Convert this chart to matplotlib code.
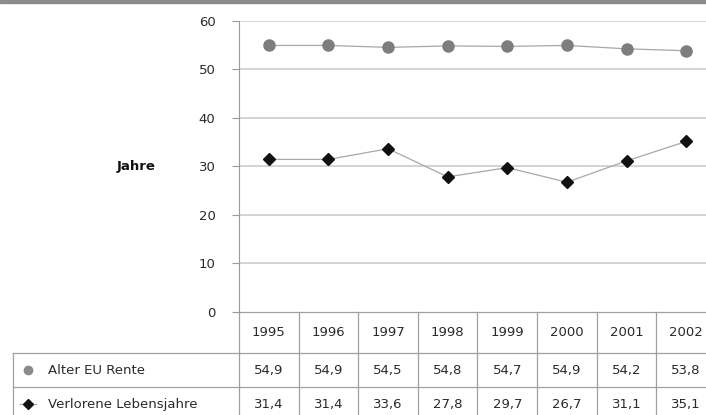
import matplotlib
matplotlib.use("Agg")
import matplotlib.pyplot as plt
from matplotlib.transforms import blended_transform_factory
from matplotlib.lines import Line2D
from matplotlib.patches import Rectangle

# Data
years = ["1995", "1996", "1997", "1998", "1999", "2000", "2001", "2002"]
alter_eu_rente = [54.9, 54.9, 54.5, 54.8, 54.7, 54.9, 54.2, 53.8]
verlorene_lebensjahre = [31.4, 31.4, 33.6, 27.8, 29.7, 26.7, 31.1, 35.1]
series_names = ["Alter EU Rente", "Verlorene Lebensjahre"]
y_ticks = [0, 10, 20, 30, 40, 50, 60]
y_label = "Jahre"

plt.rcParams["font.family"] = ["DejaVu Sans"]

W, H = 706, 415
fig = plt.figure(figsize=(W / 100, H / 100), dpi=100)
fig.patch.set_facecolor("white")

# plot area in pixel terms (extends past the right edge of the figure)
ax_left, ax_right = 239, 716
ax_top, ax_bottom = 20.7, 311.7
ax = fig.add_axes([ax_left / W, 1 - ax_bottom / H,
                   (ax_right - ax_left) / W, (ax_bottom - ax_top) / H])

x = list(range(len(years)))
grid_col = "#c8c8c8"
line_col = "#a8a8a8"
table_col = "#a0a0a0"
text_col = "#2a2a2a"

ax.set_xlim(-0.5, len(years) - 0.5)
ax.set_ylim(0, 60)
ax.set_yticks(y_ticks)
ax.set_yticklabels([str(t) for t in y_ticks], fontsize=9.5, color=text_col)
ax.set_xticks([])
for yv in y_ticks[1:]:
    ax.axhline(yv, color=grid_col, lw=1.1, zorder=0)
for s in ["top", "right", "bottom"]:
    ax.spines[s].set_visible(False)
ax.spines["left"].set_color("#9a9a9a")
ax.tick_params(axis="y", length=5, color="#9a9a9a", pad=12)

ax.plot(x, alter_eu_rente, color=line_col, lw=0.9, marker="o", ms=8,
        markerfacecolor="#7d7d7d", markeredgecolor="#7d7d7d", zorder=3)
ax.plot(x, verlorene_lebensjahre, color=line_col, lw=0.9, marker="D", ms=6.5,
        markerfacecolor="#111111", markeredgecolor="#111111", zorder=3)

fig.text(136 / W, 1 - 166 / H, y_label, fontsize=9.5, fontweight="bold",
         color="#111111", ha="center", va="center")

# data table below the plot
tr = blended_transform_factory(ax.transData, ax.transAxes)
trf = blended_transform_factory(fig.transFigure, ax.transAxes)
axh = ax_bottom - ax_top
def fy(px):
    return -(px - ax_bottom) / axh

row_edges = [ax_bottom, 353, 387, 421]
y0, y1, y2, y3 = [fy(p) for p in row_edges]
label_left = 13 / W

# zero line / table top
ax.add_line(Line2D([-0.5, len(years) - 0.5], [0, 0], transform=tr, color=table_col,
                   lw=0.9, clip_on=False))
for yy in (y1, y2, y3):
    ax.add_line(Line2D([label_left, ax_right / W], [yy, yy], transform=trf,
                       color=table_col, lw=0.9, clip_on=False))
for i in range(len(years) + 1):
    ax.add_line(Line2D([i - 0.5, i - 0.5], [y0, y3], transform=tr, color=table_col,
                       lw=0.9, clip_on=False))
ax.add_line(Line2D([label_left, label_left], [y1, y3], transform=trf,
                   color=table_col, lw=0.9, clip_on=False))

for i, yr in enumerate(years):
    ax.text(i, (y0 + y1) / 2, yr, transform=tr, ha="center", va="center",
            fontsize=9.5, color=text_col, clip_on=False)
    ax.text(i, (y1 + y2) / 2, f"{alter_eu_rente[i]:.1f}".replace(".", ","),
            transform=tr, ha="center", va="center", fontsize=9.5, color=text_col,
            clip_on=False)
    ax.text(i, (y2 + y3) / 2, f"{verlorene_lebensjahre[i]:.1f}".replace(".", ","),
            transform=tr, ha="center", va="center", fontsize=9.5, color=text_col,
            clip_on=False)

# row labels with legend keys
ax.add_line(Line2D([28 / W], [(y1 + y2) / 2], transform=trf, marker="o", ms=6,
                   color="#8a8a8a", clip_on=False))
ax.add_line(Line2D([20 / W, 36 / W], [(y2 + y3) / 2] * 2, transform=trf,
                   color=line_col, lw=0.9, clip_on=False))
ax.add_line(Line2D([28 / W], [(y2 + y3) / 2], transform=trf, marker="D", ms=5.5,
                   color="#111111", clip_on=False))
ax.text(48 / W, (y1 + y2) / 2, series_names[0], transform=trf, ha="left",
        va="center", fontsize=9.5, color=text_col, clip_on=False)
ax.text(48 / W, (y2 + y3) / 2, series_names[1], transform=trf, ha="left",
        va="center", fontsize=9.5, color=text_col, clip_on=False)

# frame edge along the top
fig.patches.append(Rectangle((0, 1 - 3 / H), 1, 3 / H, transform=fig.transFigure,
                             color="#8c8c8c", zorder=10))

fig.savefig("out.png", dpi=100)
